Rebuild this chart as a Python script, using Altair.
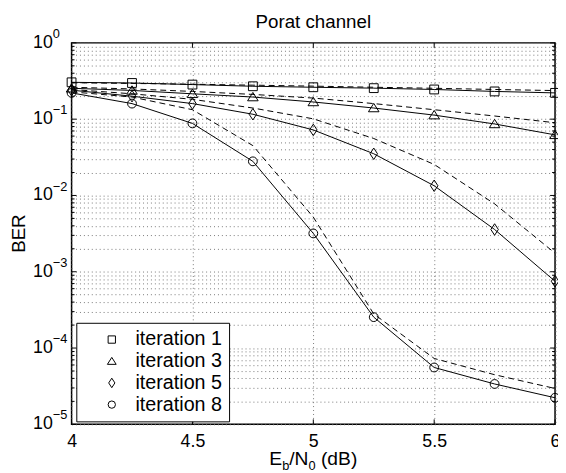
import altair as alt
import pandas as pd

FONT = "Liberation Sans"

# ---- data ----
ebn0 = [4.0, 4.25, 4.5, 4.75, 5.0, 5.25, 5.5, 5.75, 6.0]
series_names = ["iteration 1", "iteration 3", "iteration 5", "iteration 8"]

iter1_solid = [0.304, 0.298, 0.284, 0.270, 0.262, 0.255, 0.245, 0.231, 0.221]
iter1_dashed = [0.300, 0.294, 0.287, 0.279, 0.271, 0.262, 0.254, 0.245, 0.237]
iter3_solid = [0.254, 0.238, 0.215, 0.195, 0.168, 0.140, 0.113, 0.0865, 0.0623]
iter3_dashed = [0.262, 0.249, 0.231, 0.211, 0.189, 0.160, 0.133, 0.110, 0.0898]
iter5_solid = [0.240, 0.200, 0.160, 0.116, 0.0723, 0.0352, 0.0134, 0.00358, 0.00075]
iter5_dashed = [0.245, 0.215, 0.182, 0.140, 0.101, 0.0558, 0.0255, 0.00776, 0.00175]
iter8_solid = [0.221, 0.160, 0.088, 0.028, 0.00318, 0.000254, 0.0000556, 0.0000338, 0.0000223]
iter8_dashed = [0.228, 0.195, 0.133, 0.045, 0.0052, 0.00028, 0.000073, 0.0000447, 0.0000295]

x_ticks = [4, 4.5, 5, 5.5, 6]
y_decades = [1, 1e-1, 1e-2, 1e-3, 1e-4, 1e-5]
y_exponents = ["0", "\u22121", "\u22122", "\u22123", "\u22124", "\u22125"]
y_minor = [m * 10.0 ** e for e in range(-5, 0) for m in range(2, 10)]

title_text = ["Porat channel"]
y_title = ["BER"]
# x-axis title pieces: E_b / N_0 (dB)
xt_parts = ["E", "b", "/N", "0", "(dB)"]

# ---- build table ----
solids = [iter1_solid, iter3_solid, iter5_solid, iter8_solid]
dasheds = [iter1_dashed, iter3_dashed, iter5_dashed, iter8_dashed]
rows = []
for name, s_vals, d_vals in zip(series_names, solids, dasheds):
    for x, s, d in zip(ebn0, s_vals, d_vals):
        rows.append({"ebn0": x, "ber": s, "series": name, "style": "solid"})
        rows.append({"ebn0": x, "ber": d, "series": name, "style": "dashed"})
df = pd.DataFrame(rows)

W, H = 490.5, 387

xs = alt.Scale(domain=[4, 6], nice=False, zero=False)
ys = alt.Scale(type="log", domain=[1e-5, 1], nice=False)
grid_vals = sorted(y_minor + y_decades)

XAXIS = alt.Axis(values=x_ticks, format="~g", grid=True, gridDash=[1, 3],
                 gridColor="#7a7a7a", gridWidth=1, ticks=False, tickSize=0,
                 domain=False, labelFlush=False, labelOverlap=False,
                 labelFontSize=18, labelFont=FONT, labelColor="black",
                 labelPadding=9, title=None)
YAXIS = alt.Axis(values=grid_vals, grid=True, gridDash=[1, 3],
                 gridColor="#7a7a7a", gridWidth=1, labels=False, ticks=False,
                 domain=False, title=None)


def X(field):
    return alt.X(field, scale=xs, axis=XAXIS)


def Y(field):
    return alt.Y(field, scale=ys, axis=YAXIS)


base = alt.Chart(df).encode(x=X("ebn0:Q"), y=Y("ber:Q"))

TRIANGLE = "M0,-1.05L1.2,0.85L-1.2,0.85Z"
DIAMOND = "M0,-1.3L0.85,0L0,1.3L-0.85,0Z"

solid_lines = base.transform_filter(alt.datum.style == "solid").mark_line(
    color="black", strokeWidth=1).encode(detail="series:N")
dashed_lines = base.transform_filter(alt.datum.style == "dashed").mark_line(
    color="black", strokeWidth=1, strokeDash=[6, 4]).encode(detail="series:N")
points = base.transform_filter(alt.datum.style == "solid").mark_point(
    filled=False, color="black", strokeWidth=1, opacity=1, size=80).encode(
    shape=alt.Shape("series:N",
                    scale=alt.Scale(domain=series_names,
                                    range=["square", TRIANGLE, DIAMOND, "circle"]),
                    legend=alt.Legend(orient="none", legendX=4.8, legendY=284, title=None,
                                      fillColor="white", strokeColor="black", padding=7,
                                      labelFontSize=20, labelFont=FONT, labelColor="black",
                                      labelExpr="datum.label + '\u00a0'",
                                      symbolSize=55, symbolStrokeColor="black",
                                      symbolFillColor="white", symbolStrokeWidth=1,
                                      rowPadding=2, symbolOffset=19, labelOffset=14)),
)

# inward ticks
xt_df = pd.DataFrame({"t": x_ticks})
dec_df = pd.DataFrame({"v": y_decades, "exp": y_exponents})
minor_df = pd.DataFrame({"v": y_minor})

tick_x_bottom = alt.Chart(xt_df).mark_rule(color="black", strokeWidth=1).encode(
    x=X("t:Q"), y=alt.value(H), y2=alt.value(H - 5))
tick_x_top = alt.Chart(xt_df).mark_rule(color="black", strokeWidth=1).encode(
    x=X("t:Q"), y=alt.value(0), y2=alt.value(5))
tick_y_left = alt.Chart(dec_df).mark_rule(color="black", strokeWidth=1).encode(
    y=Y("v:Q"), x=alt.value(0), x2=alt.value(5))
tick_y_right = alt.Chart(dec_df).mark_rule(color="black", strokeWidth=1).encode(
    y=Y("v:Q"), x=alt.value(W), x2=alt.value(W - 5))
tick_ym_left = alt.Chart(minor_df).mark_rule(color="black", strokeWidth=1).encode(
    y=Y("v:Q"), x=alt.value(0), x2=alt.value(3))
tick_ym_right = alt.Chart(minor_df).mark_rule(color="black", strokeWidth=1).encode(
    y=Y("v:Q"), x=alt.value(W), x2=alt.value(W - 3))

# y tick labels 10^k
lab10 = alt.Chart(dec_df).mark_text(
    text="10", align="right", baseline="middle", fontSize=18, font=FONT, color="black").encode(
    x=alt.value(-19), y=Y("v:Q"))
labexp = alt.Chart(dec_df).mark_text(
    align="left", baseline="middle", dy=-9, fontSize=13, font=FONT, color="black").encode(
    x=alt.value(-19), y=Y("v:Q"), text="exp:N")

# title and axis titles
title_mark = alt.Chart(pd.DataFrame({"t": title_text})).mark_text(
    align="center", baseline="alphabetic", fontSize=19, font=FONT, color="black").encode(
    x=alt.value(W / 2), y=alt.value(-15), text="t:N")
ytitle_mark = alt.Chart(pd.DataFrame({"t": y_title})).mark_text(
    align="center", baseline="middle", angle=270, fontSize=19, font=FONT, color="black").encode(
    x=alt.value(-53), y=alt.value(H / 2), text="t:N")

FS, FSS = 19.5, 13
widths = [0.667 * FS, 0.556 * FSS, 1.0 * FS, 0.556 * FSS + 0.278 * FS, 1.889 * FS]
start = W / 2 - sum(widths) / 2
xt_layers = []
pos = start
for i, (txt, w) in enumerate(zip(xt_parts, widths)):
    sub = i in (1, 3)
    xt_layers.append(
        alt.Chart(pd.DataFrame({"t": [txt]})).mark_text(
            align="left", baseline="alphabetic", fontSize=FSS if sub else FS,
            font=FONT, color="black").encode(
            x=alt.value(pos), y=alt.value(H + 41 + (5 if sub else 0)), text="t:N"))
    pos += w

chart = alt.layer(
    solid_lines, dashed_lines, points,
    tick_x_bottom, tick_x_top, tick_y_left, tick_y_right, tick_ym_left, tick_ym_right,
    lab10, labexp, title_mark, ytitle_mark, *xt_layers,
).properties(
    width=W, height=H,
    autosize=alt.AutoSizeParams(type="none"),
    padding={"left": 64.5, "top": 32, "right": 3, "bottom": 46},
    background="white",
).configure_view(stroke="black", strokeWidth=1.5)

chart.save("out.html", embed_options={"renderer": "svg", "actions": False})
